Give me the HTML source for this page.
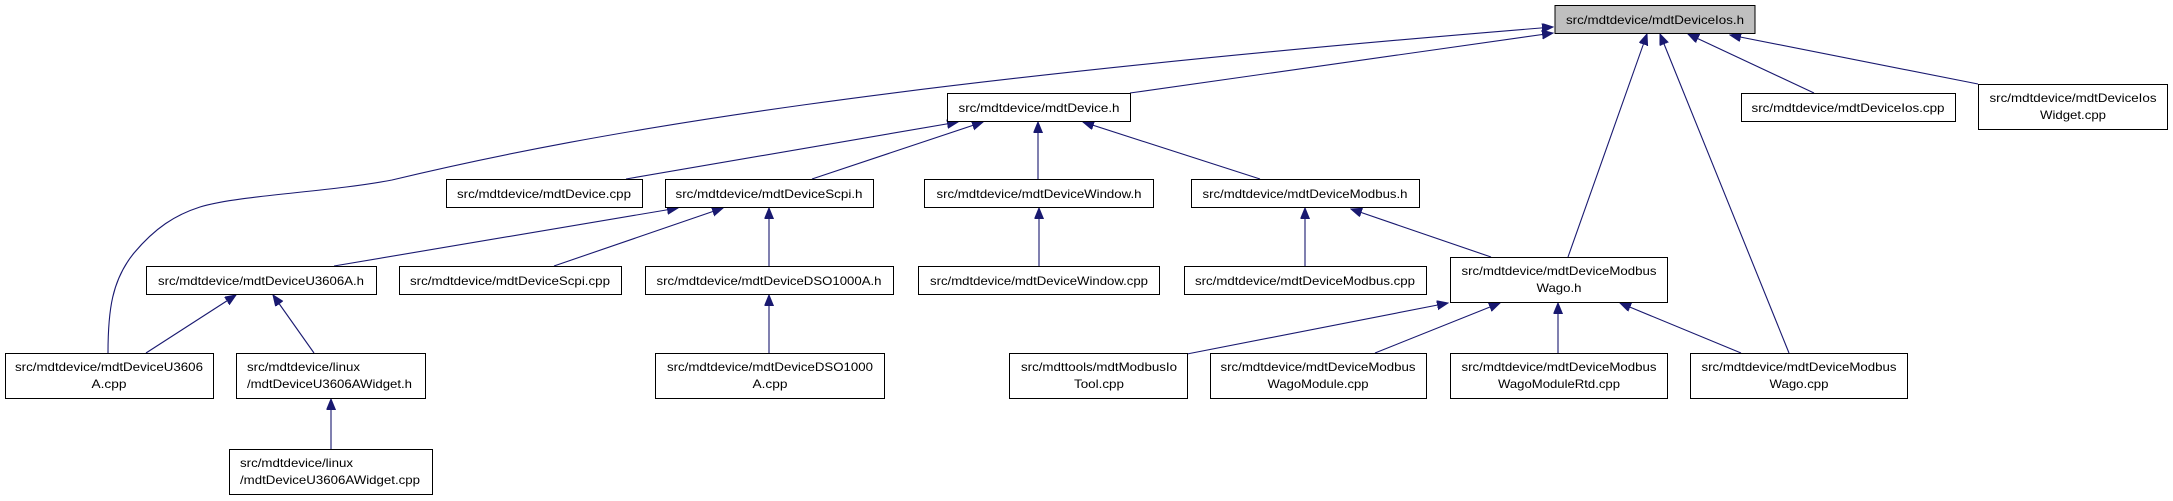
<!DOCTYPE html>
<html><head><meta charset="utf-8"><style>
html,body{margin:0;padding:0;background:#fff;}
svg{display:block;}
text{font-family:"Liberation Sans",sans-serif;font-size:12px;fill:#000;}
</style></head><body>
<svg width="2173" height="501" viewBox="0 0 2173 501" xmlns="http://www.w3.org/2000/svg">
<defs>
<marker id="a" markerUnits="userSpaceOnUse" markerWidth="12" markerHeight="10" refX="11" refY="4.5" orient="auto">
<path d="M0,0 L11,4.5 L0,9 Z" fill="#191970" stroke="#191970"/>
</marker>
</defs>
<g fill="none" stroke="#191970" stroke-width="1.1" marker-end="url(#a)">
<path d="M108,353 C108,310 112,280 134,253 C155,228 175,215 200,207 C240,195 330,192 392,180 C600,130 900,80 1553,27"/>
<line x1="1130" y1="93" x2="1553" y2="33"/>
<line x1="626" y1="179" x2="958" y2="122"/>
<line x1="812" y1="179" x2="983" y2="122"/>
<line x1="1038" y1="179" x2="1038" y2="122"/>
<line x1="1260" y1="179" x2="1083" y2="122"/>
<line x1="1568" y1="257" x2="1647" y2="34"/>
<line x1="1789" y1="353" x2="1660" y2="34"/>
<line x1="1814" y1="93" x2="1688" y2="34"/>
<line x1="1978" y1="84" x2="1730" y2="35"/>
<line x1="334" y1="266" x2="678" y2="208"/>
<line x1="554" y1="266" x2="723" y2="208"/>
<line x1="769" y1="266" x2="769" y2="208"/>
<line x1="1039" y1="266" x2="1039" y2="208"/>
<line x1="1305" y1="266" x2="1305" y2="208"/>
<line x1="1491" y1="257" x2="1351" y2="209"/>
<line x1="769" y1="353" x2="769" y2="295"/>
<line x1="146" y1="353" x2="236" y2="295"/>
<line x1="314" y1="353" x2="273" y2="295"/>
<line x1="331" y1="449" x2="331" y2="399"/>
<line x1="1187" y1="354" x2="1448" y2="303"/>
<line x1="1375" y1="353" x2="1500" y2="303"/>
<line x1="1558" y1="353" x2="1558" y2="303"/>
<line x1="1741" y1="353" x2="1620" y2="303"/>
</g>
<g stroke="#000" stroke-width="1" fill="#fff">
<rect x="1555" y="5.5" width="200" height="28" fill="#bfbfbf"/>
<rect x="947.5" y="93.5" width="183" height="28"/>
<rect x="1741.5" y="93.5" width="214" height="28"/>
<rect x="1978.5" y="84.5" width="189" height="45"/>
<rect x="446.5" y="179.5" width="196" height="28"/>
<rect x="665.5" y="179.5" width="208" height="28"/>
<rect x="924.5" y="179.5" width="229" height="28"/>
<rect x="1191.5" y="179.5" width="228" height="28"/>
<rect x="146.5" y="266.5" width="230" height="28"/>
<rect x="399.5" y="266.5" width="222" height="28"/>
<rect x="645.5" y="266.5" width="248" height="28"/>
<rect x="918.5" y="266.5" width="241" height="28"/>
<rect x="1184.5" y="266.5" width="242" height="28"/>
<rect x="1450.5" y="257.5" width="217" height="45"/>
<rect x="5.5" y="353.5" width="208" height="45"/>
<rect x="236.5" y="353.5" width="189" height="45"/>
<rect x="655.5" y="353.5" width="229" height="45"/>
<rect x="1009.5" y="353.5" width="178" height="45"/>
<rect x="1210.5" y="353.5" width="216" height="45"/>
<rect x="1450.5" y="353.5" width="217" height="45"/>
<rect x="1690.5" y="353.5" width="217" height="45"/>
<rect x="229.5" y="449.5" width="203" height="45"/>
</g>
<g text-anchor="middle">
<text x="1655" y="24" textLength="178" lengthAdjust="spacingAndGlyphs">src/mdtdevice/mdtDeviceIos.h</text>
<text x="1039" y="112" textLength="161" lengthAdjust="spacingAndGlyphs">src/mdtdevice/mdtDevice.h</text>
<text x="1848" y="112" textLength="193" lengthAdjust="spacingAndGlyphs">src/mdtdevice/mdtDeviceIos.cpp</text>
<text x="2073" y="102" textLength="167" lengthAdjust="spacingAndGlyphs">src/mdtdevice/mdtDeviceIos</text>
<text x="2073" y="119" textLength="66" lengthAdjust="spacingAndGlyphs">Widget.cpp</text>
<text x="544" y="198" textLength="174" lengthAdjust="spacingAndGlyphs">src/mdtdevice/mdtDevice.cpp</text>
<text x="769" y="198" textLength="187" lengthAdjust="spacingAndGlyphs">src/mdtdevice/mdtDeviceScpi.h</text>
<text x="1039" y="198" textLength="205" lengthAdjust="spacingAndGlyphs">src/mdtdevice/mdtDeviceWindow.h</text>
<text x="1305" y="198" textLength="205" lengthAdjust="spacingAndGlyphs">src/mdtdevice/mdtDeviceModbus.h</text>
<text x="261" y="285" textLength="206" lengthAdjust="spacingAndGlyphs">src/mdtdevice/mdtDeviceU3606A.h</text>
<text x="510" y="285" textLength="200" lengthAdjust="spacingAndGlyphs">src/mdtdevice/mdtDeviceScpi.cpp</text>
<text x="769" y="285" textLength="225" lengthAdjust="spacingAndGlyphs">src/mdtdevice/mdtDeviceDSO1000A.h</text>
<text x="1039" y="285" textLength="218" lengthAdjust="spacingAndGlyphs">src/mdtdevice/mdtDeviceWindow.cpp</text>
<text x="1305" y="285" textLength="220" lengthAdjust="spacingAndGlyphs">src/mdtdevice/mdtDeviceModbus.cpp</text>
<text x="1559" y="275" textLength="195" lengthAdjust="spacingAndGlyphs">src/mdtdevice/mdtDeviceModbus</text>
<text x="1559" y="292" textLength="45" lengthAdjust="spacingAndGlyphs">Wago.h</text>
<text x="109" y="371" textLength="188" lengthAdjust="spacingAndGlyphs">src/mdtdevice/mdtDeviceU3606</text>
<text x="109" y="388" textLength="35" lengthAdjust="spacingAndGlyphs">A.cpp</text>
<text x="770" y="371" textLength="206" lengthAdjust="spacingAndGlyphs">src/mdtdevice/mdtDeviceDSO1000</text>
<text x="770" y="388" textLength="35" lengthAdjust="spacingAndGlyphs">A.cpp</text>
<text x="1099" y="371" textLength="156" lengthAdjust="spacingAndGlyphs">src/mdttools/mdtModbusIo</text>
<text x="1099" y="388" textLength="50" lengthAdjust="spacingAndGlyphs">Tool.cpp</text>
<text x="1318" y="371" textLength="195" lengthAdjust="spacingAndGlyphs">src/mdtdevice/mdtDeviceModbus</text>
<text x="1318" y="388" textLength="101" lengthAdjust="spacingAndGlyphs">WagoModule.cpp</text>
<text x="1559" y="371" textLength="195" lengthAdjust="spacingAndGlyphs">src/mdtdevice/mdtDeviceModbus</text>
<text x="1559" y="388" textLength="122" lengthAdjust="spacingAndGlyphs">WagoModuleRtd.cpp</text>
<text x="1799" y="371" textLength="195" lengthAdjust="spacingAndGlyphs">src/mdtdevice/mdtDeviceModbus</text>
<text x="1799" y="388" textLength="59" lengthAdjust="spacingAndGlyphs">Wago.cpp</text>
</g>
<g text-anchor="start">
<text x="247" y="371" textLength="113" lengthAdjust="spacingAndGlyphs">src/mdtdevice/linux</text>
<text x="247" y="388" textLength="165" lengthAdjust="spacingAndGlyphs">/mdtDeviceU3606AWidget.h</text>
<text x="240" y="467" textLength="113" lengthAdjust="spacingAndGlyphs">src/mdtdevice/linux</text>
<text x="240" y="484" textLength="180" lengthAdjust="spacingAndGlyphs">/mdtDeviceU3606AWidget.cpp</text>
</g>
</svg>
</body></html>
